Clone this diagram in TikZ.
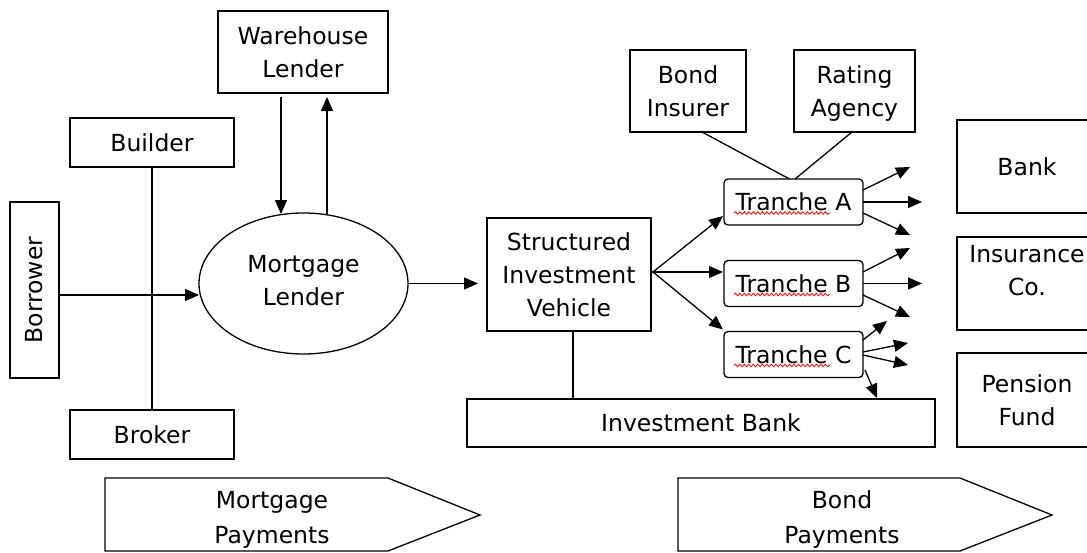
\documentclass[tikz,border=0pt]{standalone}
\usepackage{fontspec}
\setmainfont{DejaVu Sans}
\usetikzlibrary{arrows.meta,shapes.geometric,decorations.pathmorphing,calc}
\begin{document}
\begin{tikzpicture}[x=1pt,y=-1pt,
  every node/.style={font=\fontsize{23.5}{33}\selectfont, align=center, inner sep=0pt, outer sep=0pt},
  box/.style={draw, line width=1.3pt, rectangle},
  trbox/.style={draw, line width=1.3pt, rounded corners=4pt},
  ln/.style={line width=1.3pt},
  arr/.style={line width=1.3pt, -{Triangle[length=14pt,width=12pt]}},
  squig/.style={red, line width=0.8pt, decorate, decoration={snake, amplitude=1.3pt, segment length=4.5pt}},
  pay/.style={draw, line width=1.3pt},
  paytext/.style={font=\fontsize{23.5}{35}\selectfont}
]
\useasboundingbox (0,0) rectangle (1087,552);
\fill[white] (0,0) rectangle (1087,552);

% left part
\node[box, minimum width=170, minimum height=82] (wl) at (303,52) {Warehouse\\Lender};
\node[box, minimum width=164, minimum height=49] (builder) at (152,142.5) {Builder};
\node[box, minimum width=49, minimum height=176] (borrower) at (34.5,290) {};
\node[rotate=90] (borrowertxt) at (borrower.center) {Borrower};
\node[box, minimum width=164, minimum height=49] (broker) at (152,434.5) {Broker};
\node[draw, ellipse, line width=1.3pt, minimum width=209, minimum height=141] (ml) at (303.5,283.5) {};
\node (mltxt) at (303.5,281) {Mortgage\\Lender};

% middle
\node[box, minimum width=164, minimum height=113] (siv) at (569,274.5) {Structured\\Investment\\Vehicle};
\node[box, minimum width=116, minimum height=82] (bi) at (688,91) {Bond\\Insurer};
\node[box, minimum width=121, minimum height=82] (ra) at (854.5,91) {};
\node (ratxt) at (854.5,94) {Rating\\Agency};
\node[trbox, minimum width=139, minimum height=46] (trA) at (793.5,202) {Tranche A};
\node[trbox, minimum width=139, minimum height=46] (trB) at (793.5,283.5) {Tranche B};
\node[trbox, minimum width=139, minimum height=46] (trC) at (793.5,354.5) {Tranche C};
\node[box, minimum width=468, minimum height=48] (ib) at (701,423) {Investment Bank};

% right boxes
\node[box, minimum width=140, minimum height=93] (bank) at (1027,166.5) {Bank};
\node[box, minimum width=140, minimum height=93] (ins) at (1027,283.5) {};
\node (instxt) at (1027,270.5) {Insurance\\Co.};
\node[box, minimum width=140, minimum height=94] (pen) at (1027,400) {Pension\\Fund};

% spell-check squiggles
\foreach \t in {trA,trB,trC}{
  \draw[squig] ($(\t.west)+(10,11)$) -- ($(\t.west)+(106,11)$);
}

% connectors left
\coordinate (by) at (0,295);
\draw[ln] (builder.south) -- (broker.north);
\draw[arr] (borrower.east |- by) -- (ml.west |- by);
\draw[arr, shorten <=4pt] ([xshift=-22pt]wl.south) -- ([xshift=-22.5pt,yshift=-1pt]ml.north);
\draw[arr, shorten >=4pt] ([xshift=23.5pt,yshift=-1pt]ml.north) -- ([xshift=24pt]wl.south);
\draw[arr, shorten >=9pt] (ml.east) -- (siv.west |- ml.east);

% SIV fan
\coordinate (fan) at ([xshift=2pt,yshift=2.5pt]siv.east);
\draw[ln] ([yshift=2.5pt]siv.east) -- (fan);
\draw[arr] (fan) -- ([xshift=-1pt,yshift=9pt]trA.south west);
\draw[arr] (fan) -- ([xshift=-1pt,yshift=11.5pt]trB.west);
\draw[arr] (fan) -- ([xshift=-1pt,yshift=2pt]trC.north west);
\draw[ln] ([xshift=4pt]siv.south) -- ([xshift=4pt]siv.south |- ib.north);

% insurer / rating
\draw[ln] ([xshift=14pt]bi.south) -- ([xshift=-4pt]trA.north);
\draw[ln] ([xshift=-2.5pt]ra.south) -- ([xshift=1.5pt]trA.north);

% tranche outputs
\coordinate (a1) at (910,167);
\coordinate (a2) at (922,202);
\coordinate (a3) at (910,235);
\coordinate (b1) at (910,248);
\coordinate (b2) at (922,283.5);
\coordinate (b3) at (910,317);
\coordinate (c1) at (887,321);
\coordinate (c2) at (908,343);
\coordinate (c3) at (908,365);
\coordinate (c4) at (877,398);
\draw[arr] ([yshift=12pt]trA.east) -- (a1);
\draw[arr] (trA.east) -- (a2);
\draw[arr] ([yshift=-11pt]trA.east) -- (a3);
\draw[arr] ([yshift=11.5pt]trB.east) -- (b1);
\draw[arr] (trB.east) -- (b2);
\draw[arr] ([yshift=-11.5pt]trB.east) -- (b3);
\draw[arr] ([yshift=14.5pt]trC.east) -- (c1);
\draw[arr] ([yshift=2.5pt]trC.east) -- (c2);
\draw[arr] ([yshift=-0.5pt]trC.east) -- (c3);
\draw[arr] ([xshift=2pt,yshift=-15.5pt]trC.east) -- (c4);

% payment arrows
\draw[pay] (105,478) -- (388,478) -- (480,515) -- (388,551) -- (105,551) -- cycle;
\node[paytext] (mp) at (272,520) {Mortgage\\Payments};
\draw[pay] (678,478) -- (960,478) -- (1052,515) -- (960,551) -- (678,551) -- cycle;
\node[paytext] (bp) at (842,520) {Bond\\Payments};
\end{tikzpicture}
\end{document}
